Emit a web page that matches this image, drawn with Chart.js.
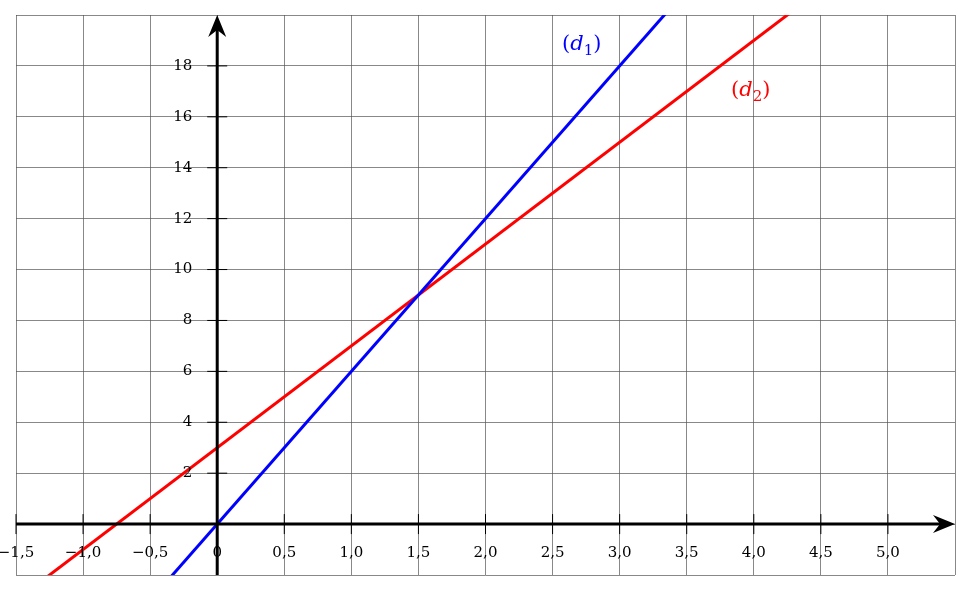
<!DOCTYPE html>
<html><head><meta charset="utf-8">
<script src="https://cdn.jsdelivr.net/npm/chart.js@4"></script>
<style>body{margin:0;background:#fff}#wrap{width:965px;height:590px}</style>
</head><body><div id="wrap"><canvas id="chartID"></canvas></div>
<script>
// line d1: y = 6x, line d2: y = 4x + 3 (end points, clipped by chart area)
var d1X=[-0.5,3.5];
var d1Y=[-3,21];
var d2X=[-1.5,4.5];
var d2Y=[-3,21];
var xTicks=[-1.5,-1.0,-0.5,0,0.5,1.0,1.5,2.0,2.5,3.0,3.5,4.0,4.5,5.0];
var yTicks=[2,4,6,8,10,12,14,16,18];
var serif='"DejaVu Serif", "Liberation Serif", serif';

function pts(xs,ys){return xs.map(function(x,i){return {x:x,y:ys[i]};});}
function fmt(v){if(v==0)return '0';var s=Math.abs(v).toFixed(1).replace('.',',');return (v<0?'\u2212':'')+s;}

var axesPlugin={id:'axes',afterDatasetsDraw:function(chart){
 var c=chart.ctx,xs=chart.scales.x,ys=chart.scales.y,a=chart.chartArea;
 var x0=xs.getPixelForValue(0),y0=ys.getPixelForValue(0);
 c.save();
 c.strokeStyle='#000';c.fillStyle='#000';c.lineWidth=3;
 c.beginPath();c.moveTo(a.left,y0);c.lineTo(a.right-8,y0);c.moveTo(x0,a.bottom);c.lineTo(x0,a.top+8);c.stroke();
 // arrow heads
 c.beginPath();c.moveTo(a.right,y0);c.lineTo(a.right-22,y0-9);c.lineTo(a.right-15,y0);c.lineTo(a.right-22,y0+9);c.closePath();c.fill();
 c.beginPath();c.moveTo(x0,a.top);c.lineTo(x0-9,a.top+22);c.lineTo(x0,a.top+15);c.lineTo(x0+9,a.top+22);c.closePath();c.fill();
 c.lineWidth=1;c.font='15px '+serif;
 c.textAlign='center';c.textBaseline='top';
 xTicks.forEach(function(v){var p=xs.getPixelForValue(v);
  if(v!=0){c.beginPath();c.moveTo(p,y0-10);c.lineTo(p,y0+10);c.stroke();}
  c.fillText(fmt(v),p,y0+22);});
 c.textAlign='right';c.textBaseline='middle';
 yTicks.forEach(function(v){var p=ys.getPixelForValue(v);
  c.beginPath();c.moveTo(x0-10,p);c.lineTo(x0+10,p);c.stroke();
  c.fillText(String(v),x0-25,p);});
 // line labels
 function lab(txt,sub,x,y,col){
  c.fillStyle=col;c.textAlign='left';c.textBaseline='alphabetic';
  c.font='21px '+serif;c.fillText('(',x,y);var w=c.measureText('(').width;
  c.font='italic 21px '+serif;c.fillText(txt,x+w,y);w+=c.measureText(txt).width;
  c.font='15px '+serif;c.fillText(sub,x+w,y+5);w+=c.measureText(sub).width;
  c.font='21px '+serif;c.fillText(')',x+w,y);
 }
 lab('d','1',562,50,'#0000ff');
 lab('d','2',731,96,'#ff0000');
 c.restore();
}};

new Chart(document.getElementById('chartID'),{
 type:'scatter',
 data:{datasets:[
  {label:'d1',data:pts(d1X,d1Y),showLine:true,borderColor:'#0000ff',borderWidth:3,pointRadius:0,clip:0},
  {label:'d2',data:pts(d2X,d2Y),showLine:true,borderColor:'#ff0000',borderWidth:3,pointRadius:0,clip:0}
 ]},
 options:{responsive:true,maintainAspectRatio:false,animation:false,
  layout:{padding:{left:16,right:10,top:15,bottom:15}},
  plugins:{legend:{display:false},tooltip:{enabled:false}},
  scales:{
   x:{type:'linear',min:-1.5,max:5.5,ticks:{display:false,stepSize:0.5},border:{display:false},grid:{color:'#555',lineWidth:0.7,drawTicks:false}},
   y:{type:'linear',min:-2,max:20,ticks:{display:false,stepSize:2},border:{display:false},grid:{color:'#555',lineWidth:0.7,drawTicks:false}}
  }},
 plugins:[axesPlugin]
});
</script></body></html>
